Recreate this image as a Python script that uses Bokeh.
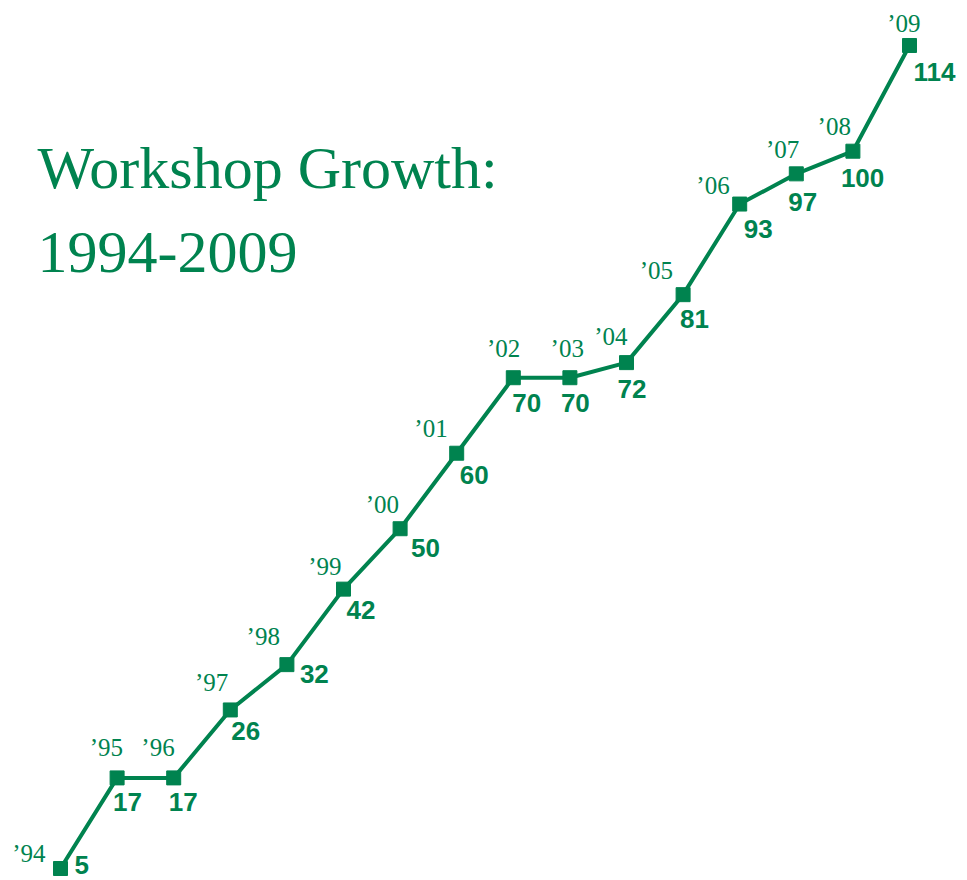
from bokeh.plotting import figure
from bokeh.models import ColumnDataSource, Range1d, Label
from bokeh.core.properties import value
from bokeh.embed import file_html
from bokeh.resources import INLINE

# ---- data ----
years = [1994, 1995, 1996, 1997, 1998, 1999, 2000, 2001,
         2002, 2003, 2004, 2005, 2006, 2007, 2008, 2009]
year_labels = ["’94", "’95", "’96", "’97", "’98", "’99", "’00", "’01",
               "’02", "’03", "’04", "’05", "’06", "’07", "’08", "’09"]
workshops = [5, 17, 17, 26, 32, 42, 50, 60, 70, 70, 72, 81, 93, 97, 100, 114]
title_lines = ["Workshop Growth:", "1994-2009"]

# ---- layout (label placement, pixels) ----
yr_dx = [-15, 6, 1, -2, -7, -2, -1, -9, 7, 14, 1, -10, -10, 3, -2, 11]
yr_dy = [-6, -21, -21, -18, -19, -14, -15, -16, -20, -20, -17, -15, -10, -15, -16, -13]
val_dx = [14, -4, -5, 1, 13, 3, 11, 3, -1, -9, -9, -3, 4, -8, -12, 4]
val_dy = [6, 34, 34, 31, 19, 31, 29, 32, 35, 35, 36, 34, 35, 38, 37, 37]
YR_FIX = -9     # baseline correction for 25px text
VAL_FIX = -10   # baseline correction for 26px text

GREEN = "#00834F"
W, H = 967, 880
PX_X = 56.6      # pixels per year
PX_Y = 7.5505    # pixels per workshop

src = ColumnDataSource(dict(
    x=years, y=workshops, yl=year_labels, vl=[str(v) for v in workshops],
    ydx=yr_dx, ydy=[d + YR_FIX for d in yr_dy],
    vdx=val_dx, vdy=[d + VAL_FIX for d in val_dy],
))

x0 = years[0] - 60 / PX_X
y0 = workshops[0] - 12 / PX_Y
p = figure(width=W, height=H, output_backend="svg", toolbar_location=None,
           x_range=Range1d(x0, x0 + W / PX_X),
           y_range=Range1d(y0, y0 + H / PX_Y),
           min_border=0, outline_line_color=None)
p.xaxis.visible = False
p.yaxis.visible = False
p.grid.visible = False
p.background_fill_color = "white"
p.border_fill_color = "white"

p.line("x", "y", source=src, line_color=GREEN, line_width=4)
p.scatter("x", "y", source=src, marker="square", size=14,
          fill_color=GREEN, line_color=GREEN)

p.text("x", "y", text="yl", source=src, x_offset="ydx", y_offset="ydy",
       text_align="right", text_baseline="alphabetic",
       text_font=value("Liberation Serif"), text_font_size="25px",
       text_color=GREEN)
p.text("x", "y", text="vl", source=src, x_offset="vdx", y_offset="vdy",
       text_align="left", text_baseline="alphabetic",
       text_font=value("Liberation Sans"), text_font_size="26px",
       text_font_style="bold", text_color=GREEN)

for t, yb in zip(title_lines, [713, 628]):
    p.add_layout(Label(x=37, y=yb, x_units="screen", y_units="screen",
                       text=t, text_font="Liberation Serif",
                       text_font_size="60px", text_color=GREEN,
                       text_baseline="alphabetic", text_align="left"))

open("out.html", "w").write(file_html(p, INLINE))
